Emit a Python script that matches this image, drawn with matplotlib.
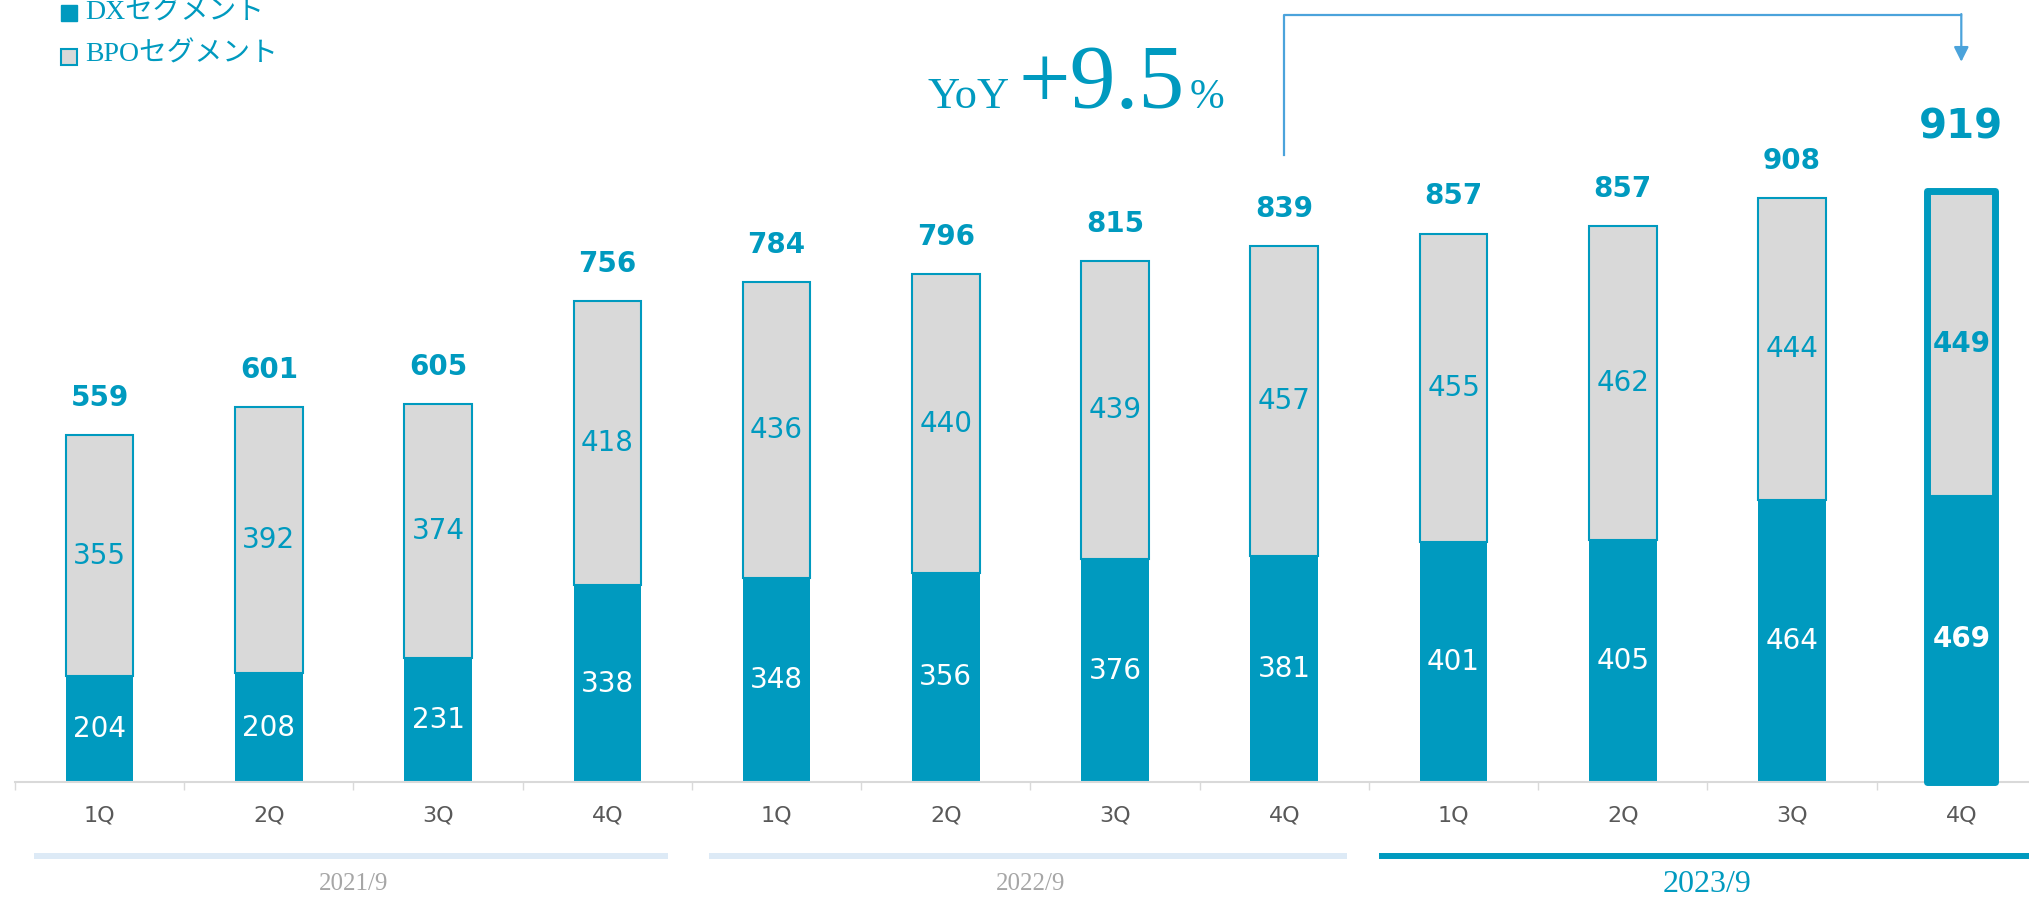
import matplotlib
matplotlib.use('Agg')
import matplotlib.pyplot as plt
import matplotlib.transforms as mtransforms
from matplotlib.patches import Rectangle
import numpy as np

# data
quarters = ['1Q', '2Q', '3Q', '4Q'] * 3
periods = ['2021/9', '2022/9', '2023/9']
dx = [204, 208, 231, 338, 348, 356, 376, 381, 401, 405, 464, 469]
bpo = [355, 392, 374, 418, 436, 440, 439, 457, 455, 462, 444, 449]
totals = [559, 601, 605, 756, 784, 796, 815, 839, 857, 857, 908, 919]
legend_labels = ['DXセグメント', 'BPOセグメント']
yoy_parts = ['YoY', '+9.5', '%']

TEAL = '#009ABF'
GRAY = '#D9D9D9'
ARROW = '#4BA3DB'
SERIF = ['Liberation Serif', 'Noto Sans CJK JP']

W, H = 2029, 899
fig = plt.figure(figsize=(W / 100, H / 100), dpi=100)
ax = fig.add_axes([15 / W, 117 / H, 1 - 15 / W, 782 / H])

x = np.arange(len(dx))
dx = np.array(dx)
bpo = np.array(bpo)
y0 = 48
ax.set_xlim(-0.5, 11.4)
ax.set_ylim(y0, 1200)

ax.bar(x, dx, width=0.4, color=TEAL, linewidth=0)
ax.bar(x, bpo, bottom=dx, width=0.4, color=GRAY, edgecolor=TEAL, linewidth=1.5)

# highlight the latest quarter
last = len(x) - 1
ax.add_patch(Rectangle((last - 0.2, y0), 0.4, dx[last] + bpo[last] - y0,
                       fill=False, edgecolor=TEAL, linewidth=5,
                       joinstyle='round', clip_on=False, zorder=3))

for i in x:
    hl = i == last
    ax.text(i, (y0 + dx[i]) / 2, str(dx[i]), ha='center', va='center',
            color='white', fontsize=20, fontweight='bold' if hl else 'normal')
    ax.text(i, dx[i] + bpo[i] / 2, str(bpo[i]), ha='center', va='center',
            color=TEAL, fontsize=20, fontweight='bold' if hl else 'normal')
    ax.annotate(str(totals[i]), (i, dx[i] + bpo[i]),
                xytext=(0, 38 if hl else 21), textcoords='offset points',
                ha='center', va='baseline', color=TEAL,
                fontsize=29 if hl else 20, fontweight='bold')

# axis styling
for s in ['top', 'left', 'right']:
    ax.spines[s].set_visible(False)
ax.spines['bottom'].set_color(GRAY)
ax.spines['bottom'].set_linewidth(1.5)
ax.set_yticks([])
ax.set_xticks(x)
ax.set_xticklabels(quarters, fontsize=16, color='#595959')
ax.tick_params(axis='x', which='major', length=0, pad=17)
ax.set_xticks(np.arange(-0.5, 11, 1), minor=True)
ax.tick_params(axis='x', which='minor', length=6, width=1, color=GRAY)

blend = mtransforms.blended_transform_factory(ax.transData, ax.transAxes)

# fiscal year bands under the quarters
band_start = [-0.39, 3.60, 7.56]
band_end = [3.36, 7.37, 11.4]
for g, p in enumerate(periods):
    cur = g == len(periods) - 1
    ax.plot([band_start[g], band_end[g]], [-0.095, -0.095], transform=blend,
            color=TEAL if cur else '#DDEAF6', lw=4.3, solid_capstyle='butt',
            clip_on=False)
    ax.text(4 * g + 1.5, -0.131, p, transform=blend, ha='center', va='center',
            family=SERIF, fontsize=23 if cur else 18,
            color=TEAL if cur else '#A6A6A6')

# YoY bracket from 2022/9 4Q to 2023/9 4Q
ax.plot([7, 7, 11], [0.802, 0.981, 0.981], transform=blend, color=ARROW,
        lw=1.6, clip_on=False)
ax.annotate('', xy=(11, 0.921), xytext=(11, 0.982), xycoords=blend,
            arrowprops=dict(arrowstyle='-|>', color=ARROW, lw=1.6,
                            mutation_scale=22, shrinkA=0, shrinkB=0))

yb = 1 - 108 / H
fig.text(928 / W, yb, yoy_parts[0], fontsize=32, family=SERIF, color=TEAL, va='baseline')
fig.text(1018 / W, yb, yoy_parts[1], fontsize=66, family=SERIF, color=TEAL, va='baseline')
fig.text(1190 / W, yb, yoy_parts[2], fontsize=30, family=SERIF, color=TEAL, va='baseline')

# legend
fig.add_artist(Rectangle((61 / W, 1 - 21 / H), 16 / W, 16 / H, transform=fig.transFigure,
                         facecolor=TEAL, edgecolor=TEAL, lw=1))
fig.add_artist(Rectangle((61 / W, 1 - 65 / H), 16 / W, 16 / H, transform=fig.transFigure,
                         facecolor=GRAY, edgecolor=TEAL, lw=1.5))
fig.text(85 / W, 1 - 13 / H, legend_labels[0], fontsize=20, family=SERIF, color=TEAL, va='center')
fig.text(85 / W, 1 - 55 / H, legend_labels[1], fontsize=20, family=SERIF, color=TEAL, va='center')

fig.savefig('out.png', dpi=100)
